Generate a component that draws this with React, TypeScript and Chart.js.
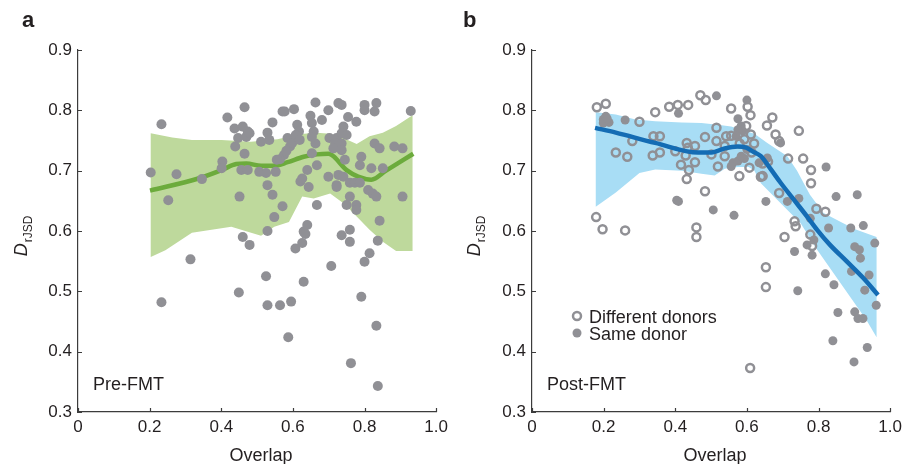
import React, { useEffect, useRef } from 'react';
import { Chart, registerables } from 'chart.js';

Chart.register(...registerables);

const FONT = "'Liberation Sans', Arial, Helvetica, sans-serif";
const TEXT = '#231f20';
const AXIS = '#3c3c3c';
const GRAY = '#909095';

const xTickLabels = ['0', '0.2', '0.4', '0.6', '0.8', '1.0'];
const yTickLabels = ['0.3', '0.4', '0.5', '0.6', '0.7', '0.8', '0.9'];
const xTitle = 'Overlap';
const legendLabels = ['Different donors', 'Same donor'];

type P = [number, number];

// Panel a: pre-FMT
const prePoints: P[] = [
  [0.203, 0.697], [0.233, 0.777], [0.233, 0.482], [0.252, 0.651], [0.275, 0.694], [0.314, 0.553], [0.346, 0.686],
  [0.403, 0.715], [0.401, 0.704], [0.417, 0.788], [0.437, 0.770], [0.439, 0.740], [0.447, 0.754], [0.451, 0.657], [0.449, 0.498],
  [0.460, 0.590], [0.479, 0.577], [0.465, 0.805], [0.460, 0.773], [0.470, 0.756], [0.474, 0.765], [0.479, 0.762], [0.465, 0.728],
  [0.456, 0.701], [0.474, 0.701], [0.511, 0.748], [0.529, 0.763], [0.534, 0.751], [0.506, 0.698], [0.525, 0.696], [0.529, 0.676],
  [0.543, 0.660], [0.552, 0.698], [0.543, 0.780], [0.529, 0.600], [0.525, 0.525], [0.529, 0.477], [0.548, 0.623], [0.571, 0.641],
  [0.564, 0.477], [0.595, 0.483], [0.587, 0.424], [0.571, 0.798], [0.577, 0.798], [0.585, 0.754], [0.592, 0.740], [0.598, 0.746],
  [0.575, 0.726], [0.564, 0.719], [0.555, 0.718], [0.582, 0.733], [0.603, 0.802], [0.607, 0.571], [0.626, 0.580], [0.612, 0.776],
  [0.617, 0.765], [0.608, 0.759], [0.619, 0.751], [0.640, 0.610], [0.630, 0.599], [0.635, 0.595], [0.630, 0.516], [0.621, 0.682],
  [0.626, 0.687], [0.644, 0.673], [0.640, 0.701], [0.649, 0.791], [0.653, 0.779], [0.658, 0.765], [0.663, 0.745], [0.653, 0.756],
  [0.653, 0.729], [0.663, 0.813], [0.667, 0.709], [0.667, 0.643], [0.681, 0.784], [0.699, 0.800], [0.702, 0.754], [0.707, 0.542],
  [0.699, 0.690], [0.722, 0.676], [0.727, 0.693], [0.727, 0.812], [0.736, 0.809], [0.722, 0.754], [0.718, 0.745], [0.713, 0.737],
  [0.736, 0.745], [0.736, 0.734], [0.741, 0.773], [0.736, 0.762], [0.750, 0.759], [0.754, 0.789], [0.745, 0.718], [0.741, 0.690],
  [0.759, 0.680], [0.773, 0.680], [0.787, 0.680], [0.722, 0.673], [0.750, 0.643], [0.759, 0.657], [0.777, 0.643], [0.777, 0.635],
  [0.736, 0.593], [0.759, 0.602], [0.759, 0.582], [0.762, 0.381], [0.777, 0.781], [0.791, 0.723], [0.787, 0.709], [0.800, 0.809],
  [0.800, 0.800], [0.791, 0.491], [0.800, 0.549], [0.814, 0.563], [0.810, 0.668], [0.823, 0.662], [0.833, 0.657], [0.819, 0.704],
  [0.833, 0.812], [0.828, 0.798], [0.828, 0.745], [0.842, 0.737], [0.851, 0.704], [0.842, 0.617], [0.837, 0.584], [0.833, 0.443],
  [0.837, 0.343], [0.883, 0.740], [0.906, 0.737], [0.906, 0.657], [0.929, 0.799],
];

const preTrend: P[] = [
  [0.201, 0.667], [0.336, 0.687], [0.401, 0.701], [0.442, 0.711], [0.470, 0.712], [0.511, 0.708], [0.548, 0.708],
  [0.585, 0.714], [0.630, 0.723], [0.667, 0.727], [0.699, 0.728], [0.750, 0.701], [0.782, 0.690], [0.819, 0.685],
  [0.860, 0.700], [0.936, 0.728],
];

const preBandUpper: P[] = [
  [0.203, 0.762], [0.263, 0.755], [0.318, 0.751], [0.401, 0.751], [0.483, 0.748], [0.557, 0.752], [0.594, 0.757],
  [0.631, 0.761], [0.667, 0.763], [0.704, 0.761], [0.741, 0.754], [0.778, 0.744], [0.814, 0.757], [0.851, 0.763],
  [0.888, 0.774], [0.934, 0.792],
];

const preBandLower: P[] = [
  [0.203, 0.557], [0.244, 0.568], [0.318, 0.597], [0.428, 0.607], [0.511, 0.592], [0.548, 0.607], [0.589, 0.615],
  [0.626, 0.657], [0.658, 0.654], [0.704, 0.662], [0.741, 0.646], [0.778, 0.624], [0.814, 0.602], [0.851, 0.582],
  [0.888, 0.567], [0.934, 0.567],
];

// Panel b: post-FMT
const postDifferent: P[] = [
  [0.181, 0.805], [0.206, 0.811], [0.179, 0.623], [0.197, 0.603], [0.260, 0.601], [0.234, 0.730], [0.266, 0.723], [0.280, 0.749],
  [0.300, 0.781], [0.344, 0.797], [0.339, 0.757], [0.357, 0.757], [0.337, 0.725], [0.357, 0.730], [0.383, 0.806], [0.407, 0.809],
  [0.436, 0.809], [0.470, 0.825], [0.485, 0.817], [0.400, 0.732], [0.432, 0.746], [0.435, 0.738], [0.429, 0.725], [0.416, 0.710],
  [0.438, 0.701], [0.455, 0.714], [0.432, 0.686], [0.483, 0.756], [0.483, 0.666], [0.515, 0.771], [0.515, 0.749], [0.501, 0.727],
  [0.519, 0.707], [0.459, 0.606], [0.459, 0.590], [0.556, 0.803], [0.542, 0.757], [0.556, 0.758], [0.538, 0.741], [0.538, 0.724],
  [0.579, 0.691], [0.602, 0.806], [0.610, 0.792], [0.598, 0.774], [0.611, 0.760], [0.593, 0.752], [0.607, 0.705], [0.613, 0.730],
  [0.644, 0.691], [0.656, 0.775], [0.671, 0.788], [0.680, 0.760], [0.690, 0.749], [0.690, 0.663], [0.715, 0.720], [0.745, 0.766],
  [0.757, 0.720], [0.779, 0.701], [0.779, 0.679], [0.794, 0.637], [0.819, 0.632], [0.733, 0.616], [0.736, 0.608], [0.705, 0.590],
  [0.777, 0.594], [0.782, 0.575], [0.653, 0.540], [0.653, 0.507], [0.609, 0.373], [0.659, 0.715], [0.455, 0.741], [0.639, 0.690],
  [0.644, 0.712], [0.580, 0.745], [0.620, 0.745],
];

const postSame: P[] = [
  [0.199, 0.785], [0.206, 0.790], [0.215, 0.780], [0.199, 0.779], [0.210, 0.786], [0.260, 0.784], [0.409, 0.795], [0.515, 0.824],
  [0.600, 0.817], [0.575, 0.786], [0.584, 0.774], [0.588, 0.766], [0.575, 0.768], [0.570, 0.757], [0.561, 0.713], [0.575, 0.716],
  [0.593, 0.720], [0.556, 0.707], [0.584, 0.724], [0.600, 0.735], [0.409, 0.649], [0.404, 0.651], [0.506, 0.635], [0.564, 0.626],
  [0.653, 0.649], [0.694, 0.746], [0.657, 0.721], [0.634, 0.713], [0.821, 0.706], [0.849, 0.657], [0.908, 0.660], [0.713, 0.649],
  [0.745, 0.654], [0.777, 0.621], [0.828, 0.605], [0.890, 0.605], [0.925, 0.609], [0.733, 0.566], [0.768, 0.577], [0.782, 0.560],
  [0.787, 0.585], [0.901, 0.574], [0.914, 0.569], [0.917, 0.555], [0.957, 0.580], [0.819, 0.529], [0.843, 0.511], [0.892, 0.533],
  [0.941, 0.527], [0.929, 0.502], [0.742, 0.501], [0.854, 0.465], [0.901, 0.466], [0.910, 0.455], [0.924, 0.455], [0.961, 0.477],
  [0.840, 0.418], [0.936, 0.407], [0.899, 0.383],
];

const postTrend: P[] = [
  [0.176, 0.771], [0.234, 0.763], [0.344, 0.746], [0.464, 0.730], [0.501, 0.730], [0.538, 0.737], [0.575, 0.740],
  [0.598, 0.738], [0.616, 0.732], [0.639, 0.724], [0.667, 0.702], [0.694, 0.680], [0.731, 0.652], [0.768, 0.624],
  [0.796, 0.602], [0.832, 0.577], [0.878, 0.550], [0.925, 0.522], [0.966, 0.494],
];

const postBandUpper: P[] = [
  [0.178, 0.797], [0.234, 0.793], [0.289, 0.785], [0.344, 0.782], [0.418, 0.780], [0.473, 0.779], [0.519, 0.776],
  [0.556, 0.773], [0.590, 0.767], [0.621, 0.761], [0.657, 0.746], [0.713, 0.724], [0.740, 0.700], [0.776, 0.660],
  [0.814, 0.630], [0.869, 0.613], [0.906, 0.602], [0.962, 0.590],
];

const postBandLower: P[] = [
  [0.178, 0.640], [0.234, 0.664], [0.300, 0.696], [0.344, 0.702], [0.418, 0.700], [0.473, 0.695], [0.510, 0.692],
  [0.538, 0.703], [0.575, 0.706], [0.605, 0.706], [0.621, 0.700], [0.639, 0.679], [0.704, 0.640], [0.750, 0.613],
  [0.796, 0.569], [0.842, 0.530], [0.888, 0.491], [0.934, 0.452], [0.962, 0.424],
];

const toXY = (arr: P[]) => arr.map(([x, y]) => ({ x, y }));
const polygon = (up: P[], low: P[]) => toXY([...up, ...low.slice().reverse()]);

interface Spec {
  letter: string;
  letterX: number;
  annot: string;
  yAxisWidth: number;
  rightPad: number;
  legend: boolean;
  datasets: any[];
}

function makePlugin(spec: Spec) {
  return {
    id: 'decor' + spec.letter,
    afterDraw(chart: any) {
      const { ctx, chartArea: ca, scales } = chart;
      const xs = scales.x;
      const ys = scales.y;
      ctx.save();
      // inward ticks
      ctx.strokeStyle = AXIS;
      ctx.lineWidth = 1.2;
      ctx.beginPath();
      xs.ticks.forEach((t: any) => {
        const px = Math.round(xs.getPixelForValue(t.value)) + 0.5;
        ctx.moveTo(px, ca.bottom);
        ctx.lineTo(px, ca.bottom - 4);
      });
      ys.ticks.forEach((t: any) => {
        const py = Math.round(ys.getPixelForValue(t.value)) + 0.5;
        ctx.moveTo(ca.left, py);
        ctx.lineTo(ca.left + 4, py);
      });
      ctx.stroke();

      ctx.fillStyle = TEXT;
      // panel letter
      ctx.font = `bold 22px ${FONT}`;
      ctx.textAlign = 'left';
      ctx.textBaseline = 'alphabetic';
      ctx.fillText(spec.letter, spec.letterX, 27);

      // x title
      ctx.font = `18px ${FONT}`;
      ctx.textAlign = 'center';
      ctx.fillText(xTitle, (ca.left + ca.right) / 2 + 4, 461);

      // annotation
      ctx.textAlign = 'left';
      ctx.fillText(spec.annot, ca.left + 15, 390);

      // legend
      if (spec.legend) {
        const mx = ca.left + 45;
        ctx.beginPath();
        ctx.arc(mx, 316, 4, 0, Math.PI * 2);
        ctx.strokeStyle = GRAY;
        ctx.lineWidth = 2.5;
        ctx.stroke();
        ctx.beginPath();
        ctx.arc(mx, 333, 4.5, 0, Math.PI * 2);
        ctx.fillStyle = GRAY;
        ctx.fill();
        ctx.fillStyle = TEXT;
        ctx.font = `18px ${FONT}`;
        ctx.fillText(legendLabels[0], mx + 12, 323);
        ctx.fillText(legendLabels[1], mx + 12, 340);
      }

      // y title D_rJSD
      ctx.font = `italic 18px ${FONT}`;
      const wD = ctx.measureText('D').width;
      ctx.font = `12px ${FONT}`;
      const wS = ctx.measureText('rJSD').width;
      const total = wD + wS + 1;
      ctx.translate(27, 236 + total / 2);
      ctx.rotate(-Math.PI / 2);
      ctx.textAlign = 'left';
      ctx.font = `italic 18px ${FONT}`;
      ctx.fillText('D', 0, 0);
      ctx.font = `12px ${FONT}`;
      ctx.fillText('rJSD', wD + 1, 5);
      ctx.restore();
    },
  };
}

function buildChart(canvas: HTMLCanvasElement, spec: Spec) {
  return new Chart(canvas, {
    type: 'scatter',
    data: { datasets: spec.datasets },
    options: {
      animation: false,
      responsive: false,
      maintainAspectRatio: false,
      events: [],
      layout: { padding: { top: 50, right: spec.rightPad, left: 0, bottom: 0 } },
      plugins: { legend: { display: false }, tooltip: { enabled: false } },
      scales: {
        x: {
          type: 'linear',
          min: 0,
          max: 1,
          afterFit: (s: any) => { s.height = 52; },
          grid: { display: false, drawTicks: false },
          border: { display: true, color: AXIS, width: 1.2 },
          ticks: {
            stepSize: 0.2,
            autoSkip: false,
            maxRotation: 0,
            padding: 5,
            color: TEXT,
            font: { size: 17, family: FONT },
            callback: (_v: any, i: number) => xTickLabels[i],
          },
        },
        y: {
          type: 'linear',
          min: 0.3,
          max: 0.9,
          afterFit: (s: any) => { s.width = spec.yAxisWidth; },
          grid: { display: false, drawTicks: false },
          border: { display: true, color: AXIS, width: 1.2 },
          ticks: {
            stepSize: 0.1,
            autoSkip: false,
            padding: 6,
            color: TEXT,
            font: { size: 17, family: FONT },
            callback: (_v: any, i: number) => yTickLabels[i],
          },
        },
      },
    } as any,
    plugins: [makePlugin(spec)],
  } as any);
}

export default function App() {
  const refA = useRef<HTMLCanvasElement>(null);
  const refB = useRef<HTMLCanvasElement>(null);

  useEffect(() => {
    const specA: Spec = {
      letter: 'a',
      letterX: 22,
      annot: 'Pre-FMT',
      yAxisWidth: 78,
      rightPad: 12,
      legend: false,
      datasets: [
        {
          type: 'line', data: polygon(preBandUpper, preBandLower), fill: 'shape',
          backgroundColor: 'rgb(190,217,156)', borderWidth: 0, pointRadius: 0, tension: 0, order: 3,
        },
        {
          type: 'line', data: toXY(preTrend), fill: false, borderColor: 'rgb(108,171,60)', borderWidth: 4.5,
          pointRadius: 0, cubicInterpolationMode: 'monotone', order: 2,
        },
        {
          type: 'scatter', data: toXY(prePoints), pointRadius: 5, backgroundColor: GRAY, borderWidth: 0, order: 1,
        },
      ],
    };
    const specB: Spec = {
      letter: 'b',
      letterX: 10,
      annot: 'Post-FMT',
      yAxisWidth: 79,
      rightPad: 13,
      legend: true,
      datasets: [
        {
          type: 'line', data: polygon(postBandUpper, postBandLower), fill: 'shape',
          backgroundColor: 'rgb(168,221,245)', borderWidth: 0, pointRadius: 0, tension: 0, order: 4,
        },
        {
          type: 'scatter', data: toXY(postSame), pointRadius: 4.5, backgroundColor: GRAY, borderWidth: 0, order: 3,
        },
        {
          type: 'scatter', data: toXY(postDifferent), pointRadius: 4, backgroundColor: 'rgba(0,0,0,0)',
          borderColor: GRAY, borderWidth: 2.5, order: 2,
        },
        {
          type: 'line', data: toXY(postTrend), fill: false, borderColor: 'rgb(20,108,180)', borderWidth: 4.5,
          pointRadius: 0, cubicInterpolationMode: 'monotone', order: 1,
        },
      ],
    };
    const ca = buildChart(refA.current!, specA);
    const cb = buildChart(refB.current!, specB);
    return () => { ca.destroy(); cb.destroy(); };
  }, []);

  return (
    <div style={{ position: 'fixed', left: 0, top: 0, width: 907, height: 464, background: '#fff', overflow: 'hidden' }}>
      <canvas ref={refA} width={453} height={464} style={{ position: 'absolute', left: 0, top: 0, width: 453, height: 464 }} />
      <canvas ref={refB} width={454} height={464} style={{ position: 'absolute', left: 453, top: 0, width: 454, height: 464 }} />
    </div>
  );
}
